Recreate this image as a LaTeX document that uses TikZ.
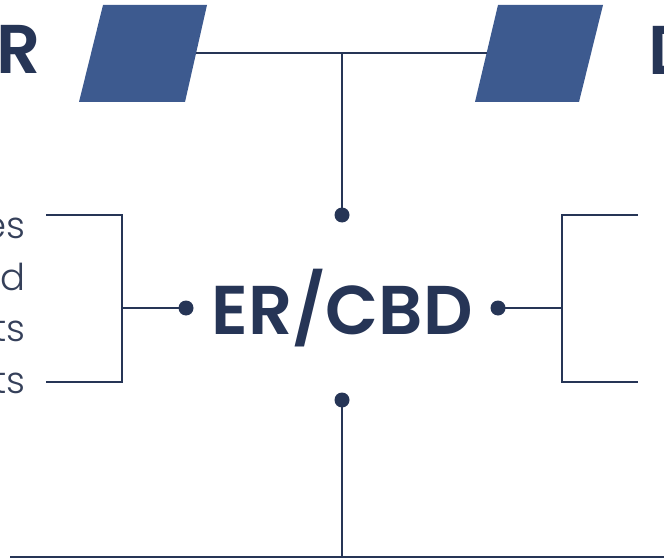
\documentclass[tikz,border=0pt]{standalone}
\usepackage{fontspec}
\setmainfont{Poppins}
\newfontfamily\lightf{Poppins Light}
\newfontfamily\semif{Poppins SemiBold}
\definecolor{navy}{HTML}{263556}
\definecolor{para}{HTML}{3D5A8F}
\definecolor{txt}{HTML}{35405A}
\tikzset{
  conn/.style={draw=navy, line width=2.8pt},
  dotn/.style={circle, fill=navy, inner sep=0pt, minimum size=15pt},
  big/.style={text=navy, font=\semif\fontsize{69}{69}\selectfont, inner sep=0pt},
  small/.style={text=txt, font=\lightf\fontsize{37}{37}\selectfont, inner sep=0pt, anchor=base east},
  paral/.style={fill=para}
}
\begin{document}
\begin{tikzpicture}[x=1pt,y=-1pt]
\useasboundingbox (0,0) rectangle (664,559);
% parallelograms
\fill[paral] (103,5) -- (207,5) -- (185,102) -- (79,102) -- cycle;
\fill[paral] (498,5) -- (603,5) -- (579,102) -- (475,102) -- cycle;
\coordinate (pl) at (196,53);
\coordinate (pr) at (487,53);
\coordinate (top) at (342,53);
% headings cut off
\node[big, anchor=base east] (hr) at (41,74) {R};
\node[big, anchor=base west] (hd) at (648,75) {D};
% dots
\node[dotn] (dt) at (342,215) {};
\node[dotn] (db) at (342,400) {};
\node[dotn] (dl) at (186,308) {};
\node[dotn] (dr) at (498,308) {};
\node[big] (main) at (342,308) {ER/CBD};
% top connector
\draw[conn] (pl) -- (pr);
\draw[conn] (top) -- (dt.center);
% left bracket
\coordinate (lt) at (46,215);
\coordinate (lb) at (46,382);
\coordinate (lm) at (122,308);
\draw[conn] (lt) -| (lm) |- (lb);
\draw[conn] (lm) -- (dl.center);
% right bracket
\coordinate (rt) at (638,215);
\coordinate (rb) at (638,382);
\coordinate (rm) at (562,308);
\draw[conn] (rt) -| (rm) |- (rb);
\draw[conn] (rm) -- (dr.center);
% bottom
\coordinate (bl) at (10,557);
\coordinate (br) at (664,557);
\coordinate (bm) at (342,557);
\draw[conn] (bl) -- (br);
\draw[conn] (db.center) -- (bm);
% small texts
\node[small] (t1) at (26,238) {es};
\node[small] (t2) at (26,290) {ed};
\node[small] (t3) at (26,341) {ts};
\node[small] (t4) at (26,393) {ts};
\end{tikzpicture}
\end{document}
